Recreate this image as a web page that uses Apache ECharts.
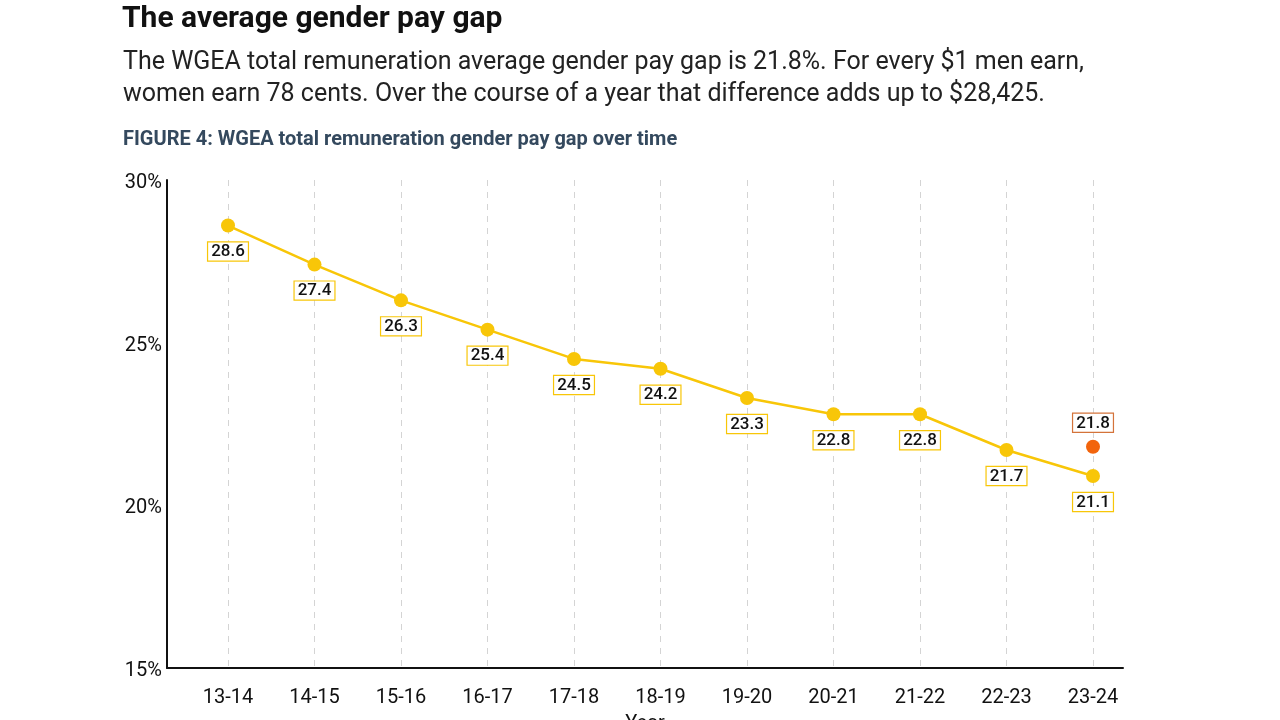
<!DOCTYPE html>
<html><head><meta charset="utf-8">
<script src="https://cdn.jsdelivr.net/npm/echarts@6/dist/echarts.min.js"></script>
<style>
html,body{margin:0;padding:0;background:#fff;}
#chart{width:1280px;height:720px;}
</style></head>
<body><div id="chart"></div>
<script>
const categories = ['13-14','14-15','15-16','16-17','17-18','18-19','19-20','20-21','21-22','22-23','23-24'];
const gapValues = [28.6, 27.4, 26.3, 25.4, 24.5, 24.2, 23.3, 22.8, 22.8, 21.7, 20.9];
const gapLabels = ['28.6','27.4','26.3','25.4','24.5','24.2','23.3','22.8','22.8','21.7','21.1'];
const latestCategory = '23-24';
const latestValue = 21.8;
const yTicks = [15, 20, 25, 30];

const chart = echarts.init(document.getElementById('chart'));
const yellow = '#F8C608';
const orange = '#F2640C';
const axisCommon = { min: 15, max: 30, interval: 5 };

chart.setOption({
  animation: false,
  backgroundColor: '#fff',
  textStyle: { fontFamily: 'Roboto' },
  title: [
    { text: 'The average gender pay gap', left: 122, top: 4, padding: 0,
      textStyle: { fontFamily: 'Roboto', fontWeight: 'bold', fontSize: 30, color: '#111' } },
    { text: 'The WGEA total remuneration average gender pay gap is 21.8%. For every $1 men earn,\nwomen earn 78 cents. Over the course of a year that difference adds up to $28,425.',
      left: 123, top: 47, padding: 0,
      textStyle: { fontFamily: 'Roboto', fontWeight: 'normal', fontSize: 25, lineHeight: 32, color: '#222' } },
    { text: 'FIGURE 4: WGEA total remuneration gender pay gap over time', left: 123, top: 130, padding: 0,
      textStyle: { fontFamily: 'Roboto', fontWeight: 'bold', fontSize: 20, color: '#34495E' } }
  ],
  grid: [
    { left: 228, right: 187, top: 180, bottom: 52, outerBoundsMode: 'none' },
    { left: 167, right: 157, top: 180, bottom: 52, outerBoundsMode: 'none' }
  ],
  xAxis: [
    { type: 'category', gridIndex: 0, data: categories, boundaryGap: false,
      axisLine: { show: false }, axisTick: { show: false },
      axisLabel: { fontSize: 20, color: '#111', margin: 20 },
      splitLine: { show: true, lineStyle: { color: '#d4d4d4', type: [6, 6], width: 1 } } },
    { type: 'value', gridIndex: 1, min: 0, max: 1, name: 'Year', nameLocation: 'middle', nameGap: 46,
      nameTextStyle: { fontSize: 20, color: '#111' },
      axisLine: { show: true, onZero: false, lineStyle: { color: '#111', width: 2 } },
      axisTick: { show: false }, axisLabel: { show: false }, splitLine: { show: false } }
  ],
  yAxis: [
    Object.assign({ type: 'value', gridIndex: 0, show: false, splitLine: { show: false } }, axisCommon),
    Object.assign({ type: 'value', gridIndex: 1,
      axisLine: { show: true, lineStyle: { color: '#111', width: 2 } },
      axisTick: { show: false }, splitLine: { show: false },
      axisLabel: { margin: 5,
        formatter: v => yTicks.includes(v) ? '{t|' + v + '%}' : '',
        rich: { t: { fontSize: 20, color: '#111', fontFamily: 'Roboto', padding: [6, 0, 0, 0] } } } }, axisCommon)
  ],
  series: [
    { type: 'line', xAxisIndex: 0, yAxisIndex: 0, data: gapValues,
      symbol: 'circle', symbolSize: 14,
      lineStyle: { color: yellow, width: 2.5 }, itemStyle: { color: yellow },
      label: { show: true, position: 'bottom', distance: 10,
        formatter: p => gapLabels[p.dataIndex],
        fontSize: 17, fontWeight: 500, color: '#111', backgroundColor: '#fff',
        borderColor: yellow, borderWidth: 1.2, padding: [1, 3, 0, 3] } },
    { type: 'scatter', xAxisIndex: 0, yAxisIndex: 0, data: [[latestCategory, latestValue]],
      symbol: 'circle', symbolSize: 14, itemStyle: { color: orange, opacity: 1 },
      label: { show: true, position: 'top', distance: 8,
        formatter: p => String(p.value[1]),
        fontSize: 17, fontWeight: 500, color: '#111', backgroundColor: '#fff',
        borderColor: '#D4733A', borderWidth: 1.2, padding: [1, 3, 0, 3] } }
  ]
});
</script></body></html>
